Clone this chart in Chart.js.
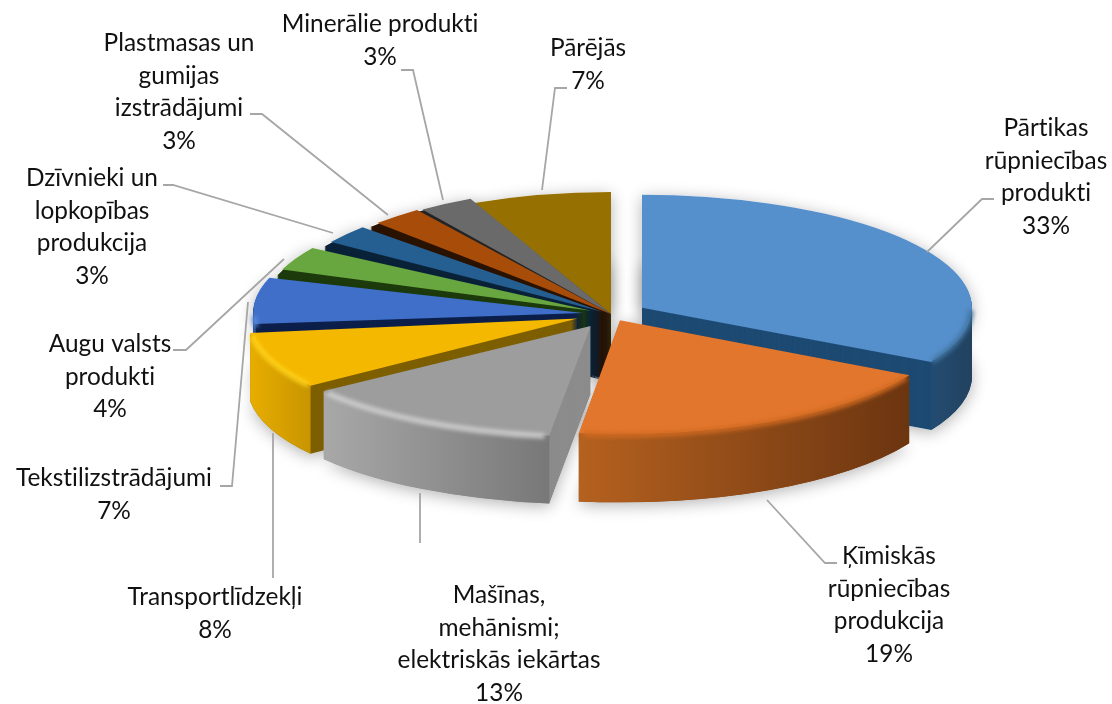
<!DOCTYPE html>
<html>
<head>
<meta charset="utf-8">
<title>Eksporta struktūra</title>
<script src="https://cdn.jsdelivr.net/npm/chart.js@4"></script>
<style>
  html, body { margin: 0; background: #fff; }
  #box { position: relative; width: 1112px; height: 704px; }
</style>
</head>
<body>
<div id="box"><canvas id="pie"></canvas></div>
<script>
const categories = [
  ['Pārtikas', 'rūpniecības', 'produkti'],
  ['Ķīmiskās', 'rūpniecības', 'produkcija'],
  ['Mašīnas,', 'mehānismi;', 'elektriskās iekārtas'],
  ['Transportlīdzekļi'],
  ['Tekstilizstrādājumi'],
  ['Augu valsts', 'produkti'],
  ['Dzīvnieki un', 'lopkopības', 'produkcija'],
  ['Plastmasas un', 'gumijas', 'izstrādājumi'],
  ['Minerālie produkti'],
  ['Pārējās']
];
const shares = [33, 19, 13, 8, 7, 4, 3, 3, 3, 7];

// slice colours: top face, radial wall, outer wall left/right, rim
const topColors = ['#558fcc', '#e2762c', '#9d9d9d', '#f5b800', '#3f6fc9', '#68a63f', '#255e91', '#a84c0a', '#6a6a6a', '#967000'];
const sideColors = ['#1d4a72', '#7a3c10', '#8c8c8c', '#7d5f00', '#0c1f4a', '#1c3a0c', '#0a2238', '#2a1200', '#242424', '#3a2c00'];
const wallLeft = ['#234c72', '#b5611f', '#a8a8a8', '#e8ad00', '#2f5597', '#4a7a2c', '#174068', '#6e3208', '#444444', '#5e4700'];
const wallRight = ['#22425f', '#6b3510', '#787878', '#c89500', '#2f5597', '#4a7a2c', '#174068', '#6e3208', '#444444', '#5e4700'];
const rimColors = ['#41749f', '#d06a22', '#d0d0d0', '#ffd21a', '#5a88d8', '#7cba50', '#3a78ae', '#c0601a', '#808080', '#aa8410'];

// 1/4 of this is how far a slice is pulled out
const sliceOffsets = [144, 80, 160, 144, 112, 88, 40, 0, 0, 0];
// vertical flattening per slice, the far ones look a bit taller in the picture
const sliceTilt = [0.342, 0.346, 0.335, 0.346, 0.346, 0.355, 0.375, 0.39, 0.386, 0.37];
// dark wedge left open at the start of each of the narrow slices (radians)
const sliceGaps = [0, 0, 0, 0, 0.03, 0.045, 0.035, 0.03, 0.02, 0.012];

// where each label block sits (centre x, first baseline y) and its leader line
const labelSpots = [
  [1046, 136], [889, 564], [499, 603], [215, 605], [114, 486],
  [110, 352], [92, 186], [179, 51], [380, 32], [588, 56]
];
const leaders = [
  [[927, 252], [982, 199], [994, 199]],
  [[767, 500], [825, 563], [837, 563]],
  [[420, 493], [420, 543]],
  [[273, 433], [273, 578]],
  [[248, 302], [232, 486], [220, 486]],
  [[284, 259], [186, 350], [173, 350]],
  [[333, 233], [173, 185], [163, 185]],
  [[388, 215], [262, 114], [250, 114]],
  [[443, 200], [413, 70], [401, 70]],
  [[542, 190], [555, 88], [567, 88]]
];

const squash = 0.346;
const depth = 68;
const lineHeight = 32.5;

function sliceShift(arc) {
  const mid = (arc.startAngle + arc.endAngle) / 2;
  const off = arc.options.offset / 4;
  return { x: arc.x + Math.cos(mid) * off, y: arc.y + Math.sin(mid) * off * squash };
}

// outline of a slice, moved down by dy
function slicePath(ctx, arc, i, dy, gap) {
  const c = sliceShift(arc);
  const r = arc.outerRadius;
  ctx.beginPath();
  ctx.moveTo(c.x, c.y + dy);
  ctx.ellipse(c.x, c.y + dy, r, r * sliceTilt[i], 0, arc.startAngle + (gap || 0), arc.endAngle);
  ctx.closePath();
}

function drawWalls(ctx, arc, i) {
  const c = sliceShift(arc);
  const r = arc.outerRadius;
  const ry = r * sliceTilt[i];
  ctx.fillStyle = sideColors[i];
  for (let d = depth; d > 0; d--) {
    slicePath(ctx, arc, i, d);
    ctx.fill();
  }
  // curved part of the wall, only where it faces the viewer
  const a = Math.max(arc.startAngle, 0);
  const b = Math.min(arc.endAngle, Math.PI);
  if (b > a) {
    const x1 = c.x + Math.cos(a) * r;
    const x2 = c.x + Math.cos(b) * r;
    const grad = ctx.createLinearGradient(x2, 0, x1, 0);
    grad.addColorStop(0, wallLeft[i]);
    grad.addColorStop(1, wallRight[i]);
    ctx.fillStyle = grad;
    ctx.beginPath();
    ctx.ellipse(c.x, c.y, r, ry, 0, a, b);
    ctx.ellipse(c.x, c.y + depth, r, ry, 0, b, a, true);
    ctx.closePath();
    ctx.fill();
  }
}

function drawRim(ctx, arc, i) {
  const c = sliceShift(arc);
  const r = arc.outerRadius;
  const a = Math.max(arc.startAngle, 0);
  const b = Math.min(arc.endAngle, Math.PI);
  if (b <= a) return;
  ctx.save();
  ctx.filter = 'blur(2px)';
  ctx.strokeStyle = rimColors[i];
  ctx.lineWidth = 5;
  ctx.beginPath();
  ctx.ellipse(c.x, c.y + 1, r - 1, (r - 1) * sliceTilt[i], 0, a + 0.015, b - 0.015);
  ctx.stroke();
  ctx.restore();
}

const pie3d = {
  id: 'pie3d',
  beforeDatasetDraw(chart, args) {
    const ctx = chart.ctx;
    const arcs = args.meta.data;
    const order = arcs.map((arc, i) => i).sort((p, q) => {
      const mp = (arcs[p].startAngle + arcs[p].endAngle) / 2;
      const mq = (arcs[q].startAngle + arcs[q].endAngle) / 2;
      return Math.sin(mp) - Math.sin(mq);
    });

    // soft shadow under the whole pie
    ctx.save();
    ctx.shadowColor = 'rgba(0,0,0,0.30)';
    ctx.shadowBlur = 16;
    ctx.shadowOffsetY = 3;
    ctx.fillStyle = '#fff';
    arcs.forEach((arc, i) => {
      slicePath(ctx, arc, i, depth);
      ctx.fill();
      slicePath(ctx, arc, i, 0);
      ctx.fill();
    });
    ctx.restore();

    order.forEach(i => {
      const arc = arcs[i];
      drawWalls(ctx, arc, i);
      ctx.fillStyle = arc.options.backgroundColor;
      slicePath(ctx, arc, i, 0, sliceGaps[i]);
      ctx.fill();
      drawRim(ctx, arc, i);
    });
    return false;
  },
  afterDraw(chart) {
    const ctx = chart.ctx;
    ctx.save();
    ctx.strokeStyle = '#a6a6a6';
    ctx.lineWidth = 1.8;
    leaders.forEach(points => {
      ctx.beginPath();
      points.forEach((p, k) => k ? ctx.lineTo(p[0], p[1]) : ctx.moveTo(p[0], p[1]));
      ctx.stroke();
    });
    ctx.fillStyle = '#111';
    ctx.font = '24.4px Lato';
    ctx.letterSpacing = '0.01px'; // stops Lato's ti ligature
    ctx.textAlign = 'center';
    ctx.textBaseline = 'alphabetic';
    categories.forEach((lines, i) => {
      const spot = labelSpots[i];
      const all = lines.concat(shares[i] + '%');
      all.forEach((line, k) => ctx.fillText(line, spot[0], spot[1] + k * lineHeight));
    });
    ctx.restore();
  }
};

new Chart(document.getElementById('pie'), {
  type: 'pie',
  data: {
    labels: categories.map(lines => lines.join(' ')),
    datasets: [{
      data: shares,
      backgroundColor: topColors,
      borderWidth: 0,
      offset: sliceOffsets
    }]
  },
  options: {
    responsive: true,
    maintainAspectRatio: false,
    animation: false,
    radius: 330,
    layout: { padding: { left: 110, right: 0, top: 0, bottom: 76 } },
    plugins: { legend: { display: false }, tooltip: { enabled: false } }
  },
  plugins: [pie3d]
});
</script>
</body>
</html>
